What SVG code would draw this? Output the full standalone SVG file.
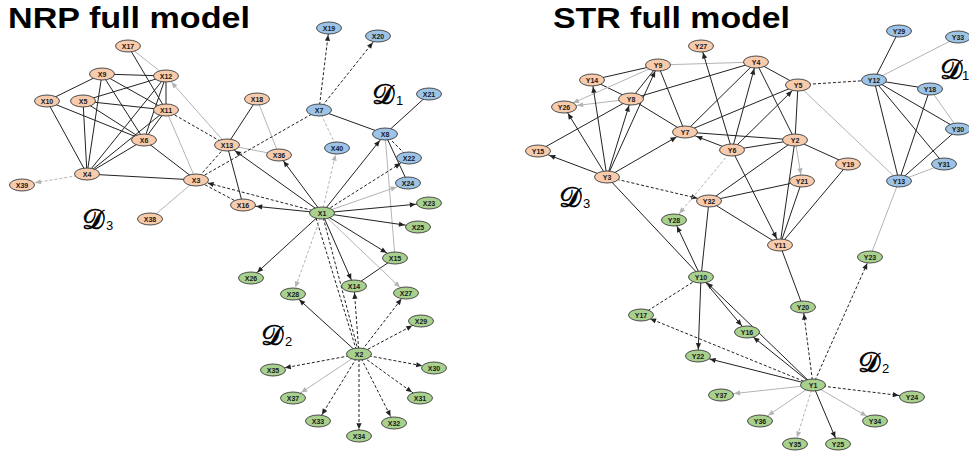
<svg xmlns="http://www.w3.org/2000/svg" width="969" height="459" viewBox="0 0 969 459">
<style>
.k{stroke:#222;stroke-width:1;fill:none}
.kd{stroke:#222;stroke-width:1;stroke-dasharray:3,2;fill:none}
.g{stroke:#b4b4b4;stroke-width:1;fill:none}
.gd{stroke:#b4b4b4;stroke-width:1;stroke-dasharray:3,2;fill:none}
.o ellipse{fill:#f8cbad;stroke:#3a3a3a;stroke-width:0.9}
.b ellipse{fill:#9dc3e6;stroke:#3a3a3a;stroke-width:0.9}
.n ellipse{fill:#a9d18e;stroke:#3a3a3a;stroke-width:0.9}
.node text{font-family:"Liberation Sans",Arial,sans-serif;font-size:7px;font-weight:bold;fill:#1a1a1a;text-anchor:middle}
.title{font-family:"Liberation Sans",Arial,sans-serif;font-size:30px;font-weight:bold;fill:#000}
.dl{font-family:"DejaVu Sans","Noto Sans",serif;font-size:28px;fill:#000;stroke:#000;stroke-width:0.7}
.sub{font-family:"Liberation Sans",Arial,sans-serif;font-size:13px;fill:#000}
</style>
<defs>
<marker id="k1" viewBox="-8 -4 16 8" markerWidth="16" markerHeight="8" markerUnits="userSpaceOnUse" refX="13.2" refY="0" orient="auto" overflow="visible"><path d="M0,0 L-6,-2.6 L-6,2.6 Z" fill="#222"/></marker>
<marker id="k2" viewBox="-8 -4 16 8" markerWidth="16" markerHeight="8" markerUnits="userSpaceOnUse" refX="12" refY="0" orient="auto" overflow="visible"><path d="M0,0 L-6,-2.6 L-6,2.6 Z" fill="#222"/></marker>
<marker id="k3" viewBox="-8 -4 16 8" markerWidth="16" markerHeight="8" markerUnits="userSpaceOnUse" refX="9.8" refY="0" orient="auto" overflow="visible"><path d="M0,0 L-6,-2.6 L-6,2.6 Z" fill="#222"/></marker>
<marker id="k4" viewBox="-8 -4 16 8" markerWidth="16" markerHeight="8" markerUnits="userSpaceOnUse" refX="8.3" refY="0" orient="auto" overflow="visible"><path d="M0,0 L-6,-2.6 L-6,2.6 Z" fill="#222"/></marker>
<marker id="k5" viewBox="-8 -4 16 8" markerWidth="16" markerHeight="8" markerUnits="userSpaceOnUse" refX="7.4" refY="0" orient="auto" overflow="visible"><path d="M0,0 L-6,-2.6 L-6,2.6 Z" fill="#222"/></marker>
<marker id="k6" viewBox="-8 -4 16 8" markerWidth="16" markerHeight="8" markerUnits="userSpaceOnUse" refX="6.8" refY="0" orient="auto" overflow="visible"><path d="M0,0 L-6,-2.6 L-6,2.6 Z" fill="#222"/></marker>
<marker id="g1" viewBox="-8 -4 16 8" markerWidth="16" markerHeight="8" markerUnits="userSpaceOnUse" refX="13.2" refY="0" orient="auto" overflow="visible"><path d="M0,0 L-6,-2.6 L-6,2.6 Z" fill="#b4b4b4"/></marker>
<marker id="g2" viewBox="-8 -4 16 8" markerWidth="16" markerHeight="8" markerUnits="userSpaceOnUse" refX="12" refY="0" orient="auto" overflow="visible"><path d="M0,0 L-6,-2.6 L-6,2.6 Z" fill="#b4b4b4"/></marker>
<marker id="g3" viewBox="-8 -4 16 8" markerWidth="16" markerHeight="8" markerUnits="userSpaceOnUse" refX="9.8" refY="0" orient="auto" overflow="visible"><path d="M0,0 L-6,-2.6 L-6,2.6 Z" fill="#b4b4b4"/></marker>
<marker id="g4" viewBox="-8 -4 16 8" markerWidth="16" markerHeight="8" markerUnits="userSpaceOnUse" refX="8.3" refY="0" orient="auto" overflow="visible"><path d="M0,0 L-6,-2.6 L-6,2.6 Z" fill="#b4b4b4"/></marker>
<marker id="g6" viewBox="-8 -4 16 8" markerWidth="16" markerHeight="8" markerUnits="userSpaceOnUse" refX="6.8" refY="0" orient="auto" overflow="visible"><path d="M0,0 L-6,-2.6 L-6,2.6 Z" fill="#b4b4b4"/></marker>
</defs>
<rect width="969" height="459" fill="#fff"/>
<text class="title" x="8" y="28" textLength="242" lengthAdjust="spacingAndGlyphs">NRP full model</text>
<text class="title" x="553" y="28" textLength="237" lengthAdjust="spacingAndGlyphs">STR full model</text>
<g id="connectors">
<!-- left undirected -->
<line class="k" x1="128" y1="46" x2="166" y2="110"/>
<line class="k" x1="102" y1="74" x2="166" y2="76"/>
<line class="k" x1="102" y1="74" x2="47" y2="101"/>
<line class="k" x1="102" y1="74" x2="87" y2="174"/>
<line class="k" x1="102" y1="74" x2="144" y2="140"/>
<line class="k" x1="102" y1="74" x2="166" y2="110"/>
<line class="k" x1="83" y1="101" x2="166" y2="76"/>
<line class="k" x1="83" y1="101" x2="166" y2="110"/>
<line class="k" x1="83" y1="101" x2="87" y2="174"/>
<line class="k" x1="83" y1="101" x2="144" y2="140"/>
<line class="k" x1="47" y1="101" x2="87" y2="174"/>
<line class="k" x1="47" y1="101" x2="144" y2="140"/>
<line class="k" x1="166" y1="76" x2="166" y2="110"/>
<line class="k" x1="166" y1="76" x2="144" y2="140"/>
<line class="k" x1="166" y1="76" x2="87" y2="174"/>
<line class="k" x1="166" y1="110" x2="87" y2="174"/>
<line class="k" x1="166" y1="110" x2="144" y2="140"/>
<line class="k" x1="144" y1="140" x2="87" y2="174"/>
<line class="k" x1="144" y1="140" x2="196" y2="180"/>
<line class="k" x1="87" y1="174" x2="196" y2="180"/>
<line class="k" x1="257" y1="99" x2="227" y2="145"/>
<line class="k" x1="227" y1="145" x2="243" y2="205"/>
<line class="k" x1="319" y1="110" x2="385" y2="134"/>
<line class="k" x1="385" y1="134" x2="429" y2="94"/>
<line class="k" x1="385" y1="134" x2="408" y2="183"/>
<line class="k" x1="395" y1="258" x2="354" y2="286"/>
<line class="g" x1="128" y1="46" x2="166" y2="76"/>
<line class="g" x1="166" y1="110" x2="196" y2="180"/>
<line class="g" x1="227" y1="145" x2="279" y2="155"/>
<line class="g" x1="257" y1="99" x2="279" y2="155"/>
<line class="g" x1="196" y1="180" x2="150" y2="219"/>
<line class="g" x1="385" y1="134" x2="395" y2="258"/>
<line class="kd" x1="166" y1="110" x2="227" y2="145"/>
<line class="kd" x1="196" y1="180" x2="227" y2="145"/>
<line class="kd" x1="243" y1="205" x2="196" y2="180"/>
<line class="kd" x1="196" y1="180" x2="319" y2="110"/>
<line class="kd" x1="385" y1="134" x2="409" y2="158"/>
<line class="kd" x1="322" y1="213" x2="359" y2="354"/>
<line class="kd" x1="316" y1="218" x2="356" y2="349"/>
<line class="gd" x1="319" y1="110" x2="337" y2="148"/>
<!-- left arrows -->
<line class="gd" x1="87" y1="174" x2="22" y2="185" marker-end="url(#g1)"/>
<line class="g" x1="227" y1="145" x2="166" y2="76" marker-end="url(#g4)"/>
<line class="k" x1="322" y1="213" x2="227" y2="145" marker-end="url(#k3)"/>
<line class="k" x1="322" y1="213" x2="279" y2="155" marker-end="url(#k5)"/>
<line class="k" x1="322" y1="213" x2="243" y2="205" marker-end="url(#k1)"/>
<line class="kd" x1="322" y1="213" x2="196" y2="180" marker-end="url(#k2)"/>
<line class="kd" x1="319" y1="110" x2="329" y2="28" marker-end="url(#k6)"/>
<line class="kd" x1="319" y1="110" x2="378" y2="36" marker-end="url(#k4)"/>
<line class="gd" x1="322" y1="213" x2="337" y2="148" marker-end="url(#g6)"/>
<line class="k" x1="322" y1="213" x2="385" y2="134" marker-end="url(#k4)"/>
<line class="kd" x1="322" y1="213" x2="409" y2="158" marker-end="url(#k3)"/>
<line class="g" x1="322" y1="213" x2="408" y2="183" marker-end="url(#g2)"/>
<line class="k" x1="322" y1="213" x2="429" y2="203" marker-end="url(#k1)"/>
<line class="k" x1="322" y1="213" x2="418" y2="227" marker-end="url(#k1)"/>
<line class="k" x1="322" y1="213" x2="395" y2="258" marker-end="url(#k3)"/>
<line class="k" x1="322" y1="213" x2="354" y2="286" marker-end="url(#k6)"/>
<line class="g" x1="322" y1="213" x2="406" y2="293" marker-end="url(#g4)"/>
<line class="k" x1="322" y1="213" x2="251" y2="278" marker-end="url(#k4)"/>
<line class="gd" x1="322" y1="213" x2="293" y2="294" marker-end="url(#g6)"/>
<line class="k" x1="359" y1="354" x2="293" y2="294" marker-end="url(#k4)"/>
<line class="kd" x1="359" y1="354" x2="354" y2="286" marker-end="url(#k6)"/>
<line class="kd" x1="359" y1="354" x2="406" y2="293" marker-end="url(#k5)"/>
<line class="kd" x1="359" y1="354" x2="421" y2="321" marker-end="url(#k3)"/>
<line class="kd" x1="359" y1="354" x2="434" y2="368" marker-end="url(#k2)"/>
<line class="kd" x1="359" y1="354" x2="420" y2="398" marker-end="url(#k3)"/>
<line class="kd" x1="359" y1="354" x2="394" y2="423" marker-end="url(#k5)"/>
<line class="kd" x1="359" y1="354" x2="359" y2="436" marker-end="url(#k6)"/>
<line class="kd" x1="359" y1="354" x2="318" y2="421" marker-end="url(#k5)"/>
<line class="g" x1="359" y1="354" x2="293" y2="398" marker-end="url(#g3)"/>
<line class="kd" x1="359" y1="354" x2="273" y2="370" marker-end="url(#k2)"/>
<!-- right undirected -->
<line class="k" x1="658" y1="65" x2="592" y2="80"/>
<line class="k" x1="592" y1="80" x2="631" y2="99"/>
<line class="k" x1="631" y1="99" x2="658" y2="65"/>
<line class="k" x1="631" y1="99" x2="756" y2="62"/>
<line class="k" x1="631" y1="99" x2="538" y2="151"/>
<line class="k" x1="631" y1="99" x2="685" y2="132"/>
<line class="k" x1="658" y1="65" x2="685" y2="132"/>
<line class="k" x1="607" y1="177" x2="701" y2="277"/>
<line class="k" x1="685" y1="132" x2="756" y2="62"/>
<line class="k" x1="685" y1="132" x2="798" y2="85"/>
<line class="k" x1="685" y1="132" x2="795" y2="140"/>
<line class="k" x1="732" y1="150" x2="795" y2="140"/>
<line class="k" x1="756" y1="62" x2="798" y2="85"/>
<line class="k" x1="756" y1="62" x2="795" y2="140"/>
<line class="k" x1="798" y1="85" x2="795" y2="140"/>
<line class="k" x1="795" y1="140" x2="848" y2="164"/>
<line class="k" x1="795" y1="140" x2="709" y2="201"/>
<line class="k" x1="795" y1="140" x2="780" y2="245"/>
<line class="k" x1="802" y1="181" x2="709" y2="201"/>
<line class="k" x1="802" y1="181" x2="780" y2="245"/>
<line class="k" x1="848" y1="164" x2="780" y2="245"/>
<line class="k" x1="709" y1="201" x2="780" y2="245"/>
<line class="k" x1="709" y1="201" x2="701" y2="277"/>
<line class="k" x1="780" y1="245" x2="803" y2="307"/>
<line class="k" x1="874" y1="80" x2="899" y2="31"/>
<line class="k" x1="874" y1="80" x2="930" y2="89"/>
<line class="k" x1="874" y1="80" x2="958" y2="129"/>
<line class="k" x1="874" y1="80" x2="944" y2="164"/>
<line class="k" x1="874" y1="80" x2="899" y2="181"/>
<line class="k" x1="930" y1="89" x2="899" y2="181"/>
<line class="k" x1="958" y1="129" x2="899" y2="181"/>
<line class="g" x1="658" y1="65" x2="756" y2="62"/>
<line class="g" x1="798" y1="85" x2="899" y2="181"/>
<line class="g" x1="899" y1="181" x2="870" y2="257"/>
<line class="g" x1="874" y1="80" x2="958" y2="37"/>
<line class="g" x1="930" y1="89" x2="958" y2="129"/>
<line class="g" x1="944" y1="164" x2="899" y2="181"/>
<line class="kd" x1="798" y1="85" x2="874" y2="80"/>
<line class="kd" x1="701" y1="277" x2="641" y2="315"/>
<!-- right arrows -->
<line class="k" x1="732" y1="150" x2="701" y2="46" marker-end="url(#k6)"/>
<line class="g" x1="658" y1="65" x2="564" y2="107" marker-end="url(#g3)"/>
<line class="g" x1="631" y1="99" x2="564" y2="107" marker-end="url(#g1)"/>
<line class="k" x1="607" y1="177" x2="538" y2="151" marker-end="url(#k2)"/>
<line class="k" x1="607" y1="177" x2="564" y2="107" marker-end="url(#k5)"/>
<line class="k" x1="607" y1="177" x2="592" y2="80" marker-end="url(#k6)"/>
<line class="k" x1="607" y1="177" x2="631" y2="99" marker-end="url(#k6)"/>
<line class="k" x1="607" y1="177" x2="658" y2="65" marker-end="url(#k6)"/>
<line class="k" x1="607" y1="177" x2="685" y2="132" marker-end="url(#k3)"/>
<line class="kd" x1="607" y1="177" x2="709" y2="201" marker-end="url(#k2)"/>
<line class="k" x1="732" y1="150" x2="685" y2="132" marker-end="url(#k2)"/>
<line class="k" x1="732" y1="150" x2="756" y2="62" marker-end="url(#k6)"/>
<line class="k" x1="732" y1="150" x2="798" y2="85" marker-end="url(#k4)"/>
<line class="k" x1="732" y1="150" x2="780" y2="245" marker-end="url(#k5)"/>
<line class="gd" x1="732" y1="150" x2="674" y2="220" marker-end="url(#g4)"/>
<line class="g" x1="795" y1="140" x2="802" y2="181" marker-end="url(#g6)"/>
<line class="k" x1="701" y1="277" x2="674" y2="220" marker-end="url(#k6)"/>
<line class="k" x1="701" y1="277" x2="747" y2="332" marker-end="url(#k4)"/>
<line class="k" x1="701" y1="277" x2="698" y2="356" marker-end="url(#k6)"/>
<line class="k" x1="813" y1="385" x2="701" y2="277" marker-end="url(#k4)"/>
<line class="k" x1="813" y1="385" x2="747" y2="332" marker-end="url(#k4)"/>
<line class="k" x1="813" y1="385" x2="698" y2="356" marker-end="url(#k2)"/>
<line class="kd" x1="813" y1="385" x2="641" y2="315" marker-end="url(#k3)"/>
<line class="kd" x1="813" y1="385" x2="803" y2="307" marker-end="url(#k6)"/>
<line class="kd" x1="813" y1="385" x2="870" y2="257" marker-end="url(#k6)"/>
<line class="kd" x1="813" y1="385" x2="912" y2="397" marker-end="url(#k1)"/>
<line class="g" x1="813" y1="385" x2="875" y2="421" marker-end="url(#g3)"/>
<line class="k" x1="813" y1="385" x2="838" y2="444" marker-end="url(#k6)"/>
<line class="gd" x1="813" y1="385" x2="795" y2="444" marker-end="url(#g6)"/>
<line class="g" x1="813" y1="385" x2="760" y2="421" marker-end="url(#g3)"/>
<line class="g" x1="813" y1="385" x2="721" y2="395" marker-end="url(#g1)"/>
</g>
<!-- left nodes -->
<g id="X17" class="node o"><ellipse cx="128" cy="46" rx="12.5" ry="6"/><text x="128" y="48.5">X17</text></g>
<g id="X9" class="node o"><ellipse cx="102" cy="74" rx="12.5" ry="6"/><text x="102" y="76.5">X9</text></g>
<g id="X12" class="node o"><ellipse cx="166" cy="76" rx="12.5" ry="6"/><text x="166" y="78.5">X12</text></g>
<g id="X10" class="node o"><ellipse cx="47" cy="101" rx="12.5" ry="6"/><text x="47" y="103.5">X10</text></g>
<g id="X5" class="node o"><ellipse cx="83" cy="101" rx="12.5" ry="6"/><text x="83" y="103.5">X5</text></g>
<g id="X11" class="node o"><ellipse cx="166" cy="110" rx="12.5" ry="6"/><text x="166" y="112.5">X11</text></g>
<g id="X6" class="node o"><ellipse cx="144" cy="140" rx="12.5" ry="6"/><text x="144" y="142.5">X6</text></g>
<g id="X13" class="node o"><ellipse cx="227" cy="145" rx="12.5" ry="6"/><text x="227" y="147.5">X13</text></g>
<g id="X4" class="node o"><ellipse cx="87" cy="174" rx="12.5" ry="6"/><text x="87" y="176.5">X4</text></g>
<g id="X39" class="node o"><ellipse cx="22" cy="185" rx="12.5" ry="6"/><text x="22" y="187.5">X39</text></g>
<g id="X3" class="node o"><ellipse cx="196" cy="180" rx="12.5" ry="6"/><text x="196" y="182.5">X3</text></g>
<g id="X16" class="node o"><ellipse cx="243" cy="205" rx="12.5" ry="6"/><text x="243" y="207.5">X16</text></g>
<g id="X38" class="node o"><ellipse cx="150" cy="219" rx="12.5" ry="6"/><text x="150" y="221.5">X38</text></g>
<g id="X18" class="node o"><ellipse cx="257" cy="99" rx="12.5" ry="6"/><text x="257" y="101.5">X18</text></g>
<g id="X36" class="node o"><ellipse cx="279" cy="155" rx="12.5" ry="6"/><text x="279" y="157.5">X36</text></g>
<g id="X7" class="node b"><ellipse cx="319" cy="110" rx="12.5" ry="6"/><text x="319" y="112.5">X7</text></g>
<g id="X19" class="node b"><ellipse cx="329" cy="28" rx="12.5" ry="6"/><text x="329" y="30.5">X19</text></g>
<g id="X20" class="node b"><ellipse cx="378" cy="36" rx="12.5" ry="6"/><text x="378" y="38.5">X20</text></g>
<g id="X21" class="node b"><ellipse cx="429" cy="94" rx="12.5" ry="6"/><text x="429" y="96.5">X21</text></g>
<g id="X8" class="node b"><ellipse cx="385" cy="134" rx="12.5" ry="6"/><text x="385" y="136.5">X8</text></g>
<g id="X40" class="node b"><ellipse cx="337" cy="148" rx="12.5" ry="6"/><text x="337" y="150.5">X40</text></g>
<g id="X22" class="node b"><ellipse cx="409" cy="158" rx="12.5" ry="6"/><text x="409" y="160.5">X22</text></g>
<g id="X24" class="node b"><ellipse cx="408" cy="183" rx="12.5" ry="6"/><text x="408" y="185.5">X24</text></g>
<g id="X1" class="node n"><ellipse cx="322" cy="213" rx="12.5" ry="6"/><text x="322" y="215.5">X1</text></g>
<g id="X23" class="node n"><ellipse cx="429" cy="203" rx="12.5" ry="6"/><text x="429" y="205.5">X23</text></g>
<g id="X25" class="node n"><ellipse cx="418" cy="227" rx="12.5" ry="6"/><text x="418" y="229.5">X25</text></g>
<g id="X15" class="node n"><ellipse cx="395" cy="258" rx="12.5" ry="6"/><text x="395" y="260.5">X15</text></g>
<g id="X26" class="node n"><ellipse cx="251" cy="278" rx="12.5" ry="6"/><text x="251" y="280.5">X26</text></g>
<g id="X28" class="node n"><ellipse cx="293" cy="294" rx="12.5" ry="6"/><text x="293" y="296.5">X28</text></g>
<g id="X14" class="node n"><ellipse cx="354" cy="286" rx="12.5" ry="6"/><text x="354" y="288.5">X14</text></g>
<g id="X27" class="node n"><ellipse cx="406" cy="293" rx="12.5" ry="6"/><text x="406" y="295.5">X27</text></g>
<g id="X29" class="node n"><ellipse cx="421" cy="321" rx="12.5" ry="6"/><text x="421" y="323.5">X29</text></g>
<g id="X2" class="node n"><ellipse cx="359" cy="354" rx="12.5" ry="6"/><text x="359" y="356.5">X2</text></g>
<g id="X35" class="node n"><ellipse cx="273" cy="370" rx="12.5" ry="6"/><text x="273" y="372.5">X35</text></g>
<g id="X30" class="node n"><ellipse cx="434" cy="368" rx="12.5" ry="6"/><text x="434" y="370.5">X30</text></g>
<g id="X37" class="node n"><ellipse cx="293" cy="398" rx="12.5" ry="6"/><text x="293" y="400.5">X37</text></g>
<g id="X31" class="node n"><ellipse cx="420" cy="398" rx="12.5" ry="6"/><text x="420" y="400.5">X31</text></g>
<g id="X33" class="node n"><ellipse cx="318" cy="421" rx="12.5" ry="6"/><text x="318" y="423.5">X33</text></g>
<g id="X32" class="node n"><ellipse cx="394" cy="423" rx="12.5" ry="6"/><text x="394" y="425.5">X32</text></g>
<g id="X34" class="node n"><ellipse cx="359" cy="436" rx="12.5" ry="6"/><text x="359" y="438.5">X34</text></g>
<!-- right nodes -->
<g id="Y27" class="node o"><ellipse cx="701" cy="46" rx="12.5" ry="6"/><text x="701" y="48.5">Y27</text></g>
<g id="Y9" class="node o"><ellipse cx="658" cy="65" rx="12.5" ry="6"/><text x="658" y="67.5">Y9</text></g>
<g id="Y4" class="node o"><ellipse cx="756" cy="62" rx="12.5" ry="6"/><text x="756" y="64.5">Y4</text></g>
<g id="Y14" class="node o"><ellipse cx="592" cy="80" rx="12.5" ry="6"/><text x="592" y="82.5">Y14</text></g>
<g id="Y26" class="node o"><ellipse cx="564" cy="107" rx="12.5" ry="6"/><text x="564" y="109.5">Y26</text></g>
<g id="Y8" class="node o"><ellipse cx="631" cy="99" rx="12.5" ry="6"/><text x="631" y="101.5">Y8</text></g>
<g id="Y7" class="node o"><ellipse cx="685" cy="132" rx="12.5" ry="6"/><text x="685" y="134.5">Y7</text></g>
<g id="Y6" class="node o"><ellipse cx="732" cy="150" rx="12.5" ry="6"/><text x="732" y="152.5">Y6</text></g>
<g id="Y15" class="node o"><ellipse cx="538" cy="151" rx="12.5" ry="6"/><text x="538" y="153.5">Y15</text></g>
<g id="Y3" class="node o"><ellipse cx="607" cy="177" rx="12.5" ry="6"/><text x="607" y="179.5">Y3</text></g>
<g id="Y32" class="node o"><ellipse cx="709" cy="201" rx="12.5" ry="6"/><text x="709" y="203.5">Y32</text></g>
<g id="Y5" class="node o"><ellipse cx="798" cy="85" rx="12.5" ry="6"/><text x="798" y="87.5">Y5</text></g>
<g id="Y2" class="node o"><ellipse cx="795" cy="140" rx="12.5" ry="6"/><text x="795" y="142.5">Y2</text></g>
<g id="Y19" class="node o"><ellipse cx="848" cy="164" rx="12.5" ry="6"/><text x="848" y="166.5">Y19</text></g>
<g id="Y21" class="node o"><ellipse cx="802" cy="181" rx="12.5" ry="6"/><text x="802" y="183.5">Y21</text></g>
<g id="Y11" class="node o"><ellipse cx="780" cy="245" rx="12.5" ry="6"/><text x="780" y="247.5">Y11</text></g>
<g id="Y12" class="node b"><ellipse cx="874" cy="80" rx="12.5" ry="6"/><text x="874" y="82.5">Y12</text></g>
<g id="Y29" class="node b"><ellipse cx="899" cy="31" rx="12.5" ry="6"/><text x="899" y="33.5">Y29</text></g>
<g id="Y33" class="node b"><ellipse cx="958" cy="37" rx="12.5" ry="6"/><text x="958" y="39.5">Y33</text></g>
<g id="Y18" class="node b"><ellipse cx="930" cy="89" rx="12.5" ry="6"/><text x="930" y="91.5">Y18</text></g>
<g id="Y30" class="node b"><ellipse cx="958" cy="129" rx="12.5" ry="6"/><text x="958" y="131.5">Y30</text></g>
<g id="Y31" class="node b"><ellipse cx="944" cy="164" rx="12.5" ry="6"/><text x="944" y="166.5">Y31</text></g>
<g id="Y13" class="node b"><ellipse cx="899" cy="181" rx="12.5" ry="6"/><text x="899" y="183.5">Y13</text></g>
<g id="Y28" class="node n"><ellipse cx="674" cy="220" rx="12.5" ry="6"/><text x="674" y="222.5">Y28</text></g>
<g id="Y10" class="node n"><ellipse cx="701" cy="277" rx="12.5" ry="6"/><text x="701" y="279.5">Y10</text></g>
<g id="Y17" class="node n"><ellipse cx="641" cy="315" rx="12.5" ry="6"/><text x="641" y="317.5">Y17</text></g>
<g id="Y20" class="node n"><ellipse cx="803" cy="307" rx="12.5" ry="6"/><text x="803" y="309.5">Y20</text></g>
<g id="Y23" class="node n"><ellipse cx="870" cy="257" rx="12.5" ry="6"/><text x="870" y="259.5">Y23</text></g>
<g id="Y16" class="node n"><ellipse cx="747" cy="332" rx="12.5" ry="6"/><text x="747" y="334.5">Y16</text></g>
<g id="Y22" class="node n"><ellipse cx="698" cy="356" rx="12.5" ry="6"/><text x="698" y="358.5">Y22</text></g>
<g id="Y1" class="node n"><ellipse cx="813" cy="385" rx="12.5" ry="6"/><text x="813" y="387.5">Y1</text></g>
<g id="Y37" class="node n"><ellipse cx="721" cy="395" rx="12.5" ry="6"/><text x="721" y="397.5">Y37</text></g>
<g id="Y24" class="node n"><ellipse cx="912" cy="397" rx="12.5" ry="6"/><text x="912" y="399.5">Y24</text></g>
<g id="Y36" class="node n"><ellipse cx="760" cy="421" rx="12.5" ry="6"/><text x="760" y="423.5">Y36</text></g>
<g id="Y34" class="node n"><ellipse cx="875" cy="421" rx="12.5" ry="6"/><text x="875" y="423.5">Y34</text></g>
<g id="Y35" class="node n"><ellipse cx="795" cy="444" rx="12.5" ry="6"/><text x="795" y="446.5">Y35</text></g>
<g id="Y25" class="node n"><ellipse cx="838" cy="444" rx="12.5" ry="6"/><text x="838" y="446.5">Y25</text></g>
<!-- domain labels -->
<g id="labels">
<text class="dl" x="372" y="104">𝒟</text><text class="sub" x="396" y="105">1</text>
<text class="dl" x="82" y="229">𝒟</text><text class="sub" x="106" y="230">3</text>
<text class="dl" x="261" y="345">𝒟</text><text class="sub" x="285" y="346">2</text>
<text class="dl" x="559" y="207">𝒟</text><text class="sub" x="583" y="208">3</text>
<text class="dl" x="940" y="79">𝒟</text><text class="sub" x="962" y="80">1</text>
<text class="dl" x="858" y="372">𝒟</text><text class="sub" x="882" y="373">2</text>
</g>
</svg>
